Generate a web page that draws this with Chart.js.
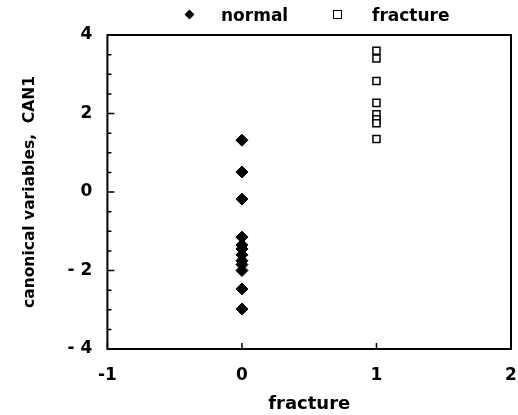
<!DOCTYPE html>
<html><head><meta charset="utf-8">
<script src="https://cdn.jsdelivr.net/npm/chart.js@4"></script>
<style>
html,body{margin:0;padding:0;background:#fff;}
#wrap{position:relative;width:518px;height:415px;}
.lg{position:absolute;font-family:"DejaVu Sans",sans-serif;font-weight:bold;font-size:17px;line-height:20px;color:#000;white-space:nowrap;top:5px;}
.dia{position:absolute;left:186px;top:11px;width:7px;height:7px;background:#000;transform:rotate(45deg);}
.sq{position:absolute;left:333px;top:10px;width:7px;height:7px;border:1.5px solid #000;}
</style></head>
<body><div id="wrap"><canvas id="c" width="518" height="415"></canvas>
<div class="dia"></div><div class="lg" style="left:221px">normal</div>
<div class="sq"></div><div class="lg" style="left:372px">fracture</div></div>
<script>
const normalX = [0,0,0,0,0,0,0,0,0,0,0,0];
const normalY = [1.32,0.51,-0.18,-1.15,-1.35,-1.45,-1.6,-1.75,-1.85,-2.0,-2.47,-2.98];
const fractureX = [1,1,1,1,1,1,1,1];
const fractureY = [3.6,3.4,2.83,2.27,1.98,1.85,1.75,1.35];
const xTicks = [-1,0,1,2];
const yTicks = [-4,-2,0,2,4];
const yMinor = [-3.5,-3,-2.5,-1.5,-1,-0.5,0.5,1,1.5,2.5,3,3.5];
const xTitle = "fracture";
const yTitle = "canonical variables,  CAN1";

const FONT = "'DejaVu Sans', sans-serif";
const framePlugin = {
  id:'frame',
  afterDraw(chart){
    const {ctx, chartArea:a, scales:{x,y}} = chart;
    ctx.save();
    ctx.strokeStyle='#000';
    ctx.lineWidth=2;
    ctx.strokeRect(a.left,a.top,a.right-a.left,a.bottom-a.top);
    ctx.lineWidth=1.5;
    ctx.beginPath();
    xTicks.forEach(v=>{const px=x.getPixelForValue(v); ctx.moveTo(px,a.bottom); ctx.lineTo(px,a.bottom-6);});
    yTicks.forEach(v=>{const py=y.getPixelForValue(v); ctx.moveTo(a.left,py); ctx.lineTo(a.left+7,py);});
    yMinor.forEach(v=>{const py=y.getPixelForValue(v); ctx.moveTo(a.left,py); ctx.lineTo(a.left+4,py);});
    ctx.stroke();
    ctx.restore();
  }
};
new Chart(document.getElementById('c'),{
  type:'scatter',
  data:{datasets:[
    {label:'normal',data:normalX.map((v,i)=>({x:v,y:normalY[i]})),pointStyle:'rectRot',radius:6,backgroundColor:'#000',borderColor:'#000',borderWidth:1},
    {label:'fracture',data:fractureX.map((v,i)=>({x:v,y:fractureY[i]})),pointStyle:'rect',radius:5,backgroundColor:'#fff',borderColor:'#000',borderWidth:1.5}
  ]},
  options:{
    responsive:false,animation:false,
    layout:{padding:{top:35,left:17,right:0,bottom:0}},
    plugins:{legend:{display:false},tooltip:{enabled:false}},
    scales:{
      x:{type:'linear',min:-1,max:2,
        afterBuildTicks(s){s.ticks=xTicks.map(v=>({value:v}));},
        afterFit(s){s.paddingRight=3;},
        grid:{display:false},border:{display:false},
        ticks:{color:'#000',font:{family:FONT,size:17,weight:'bold'},padding:8,maxRotation:0,
          callback:v=>v<0?'-'+Math.abs(v):String(v)},
        title:{display:true,text:xTitle,color:'#000',font:{family:FONT,size:18,weight:'bold'},padding:{top:0,bottom:0}}
      },
      y:{type:'linear',min:-4,max:4,
        afterBuildTicks(s){s.ticks=yTicks.map(v=>({value:v}));},
        grid:{display:false},border:{display:false},
        ticks:{color:'#000',font:{family:FONT,size:17,weight:'bold'},padding:7,
          callback:v=>v<0?'- '+Math.abs(v):String(v)},
        title:{display:true,text:yTitle,color:'#000',font:{family:FONT,size:15.5,weight:'bold'},padding:{bottom:21}}
      }
    }
  },
  plugins:[framePlugin]
});
</script></body></html>
